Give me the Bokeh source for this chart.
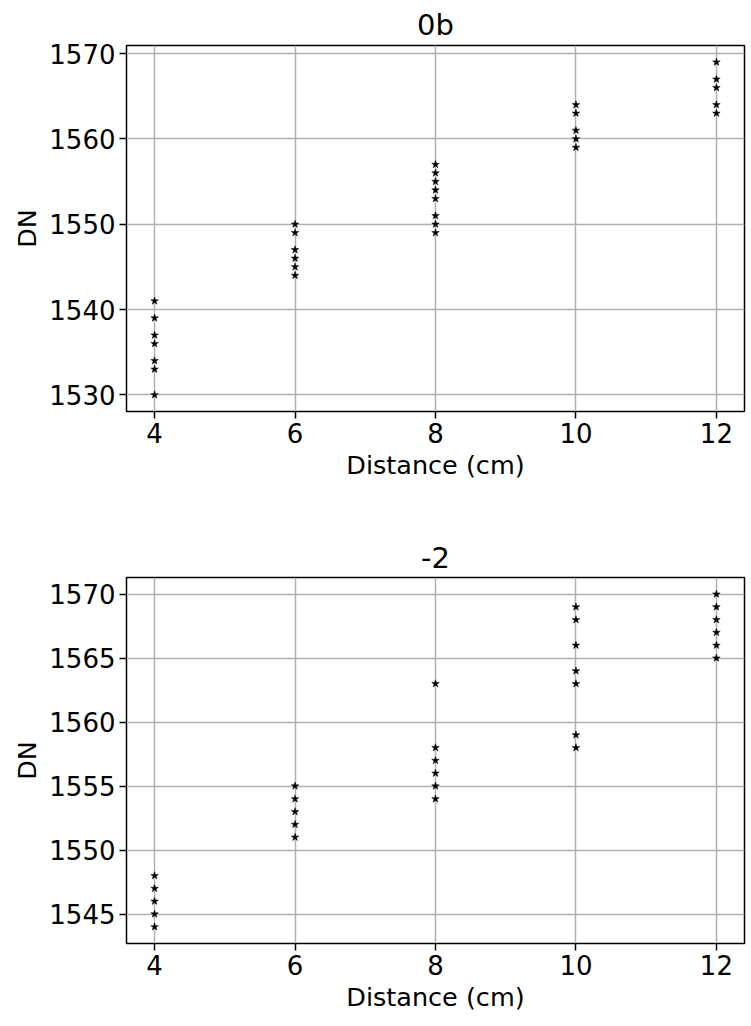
from bokeh.plotting import figure
from bokeh.layouts import column
from bokeh.models import Range1d, FixedTicker
from bokeh.embed import file_html
from bokeh.resources import INLINE

# Measurements per distance, panel "0b"
dist_0b = [4] * 7 + [6] * 6 + [8] * 8 + [10] * 5 + [12] * 5
dn_0b = [1541, 1539, 1537, 1536, 1534, 1533, 1530,
         1550, 1549, 1547, 1546, 1545, 1544,
         1557, 1556, 1555, 1554, 1553, 1551, 1550, 1549,
         1564, 1563, 1561, 1560, 1559,
         1569, 1567, 1566, 1564, 1563]

# Measurements per distance, panel "-2"
dist_m2 = [4] * 5 + [6] * 5 + [8] * 6 + [10] * 7 + [12] * 6
dn_m2 = [1548, 1547, 1546, 1545, 1544,
         1555, 1554, 1553, 1552, 1551,
         1563, 1558, 1557, 1556, 1555, 1554,
         1569, 1568, 1566, 1564, 1563, 1559, 1558,
         1570, 1569, 1568, 1567, 1566, 1565]

x_ticks = [4, 6, 8, 10, 12]
y_ticks_0b = [1530, 1540, 1550, 1560, 1570]
y_ticks_m2 = [1545, 1550, 1555, 1560, 1565, 1570]

FONT = "DejaVu Sans"


def panel(title, xs, ys, yticks, yrange, height, borders, title_standoff):
    top, bottom, left, right = borders
    p = figure(width=751, height=height, output_backend="svg",
               toolbar_location=None, title=title,
               x_range=Range1d(3.6, 12.4), y_range=Range1d(*yrange),
               min_border_top=top, min_border_bottom=bottom,
               min_border_left=left, min_border_right=right)
    p.title.align = "center"
    p.title.text_font = FONT
    p.title.text_font_style = "normal"
    p.title.text_font_size = "29px"
    p.title.text_color = "black"
    p.title.offset = 0
    p.title.standoff = title_standoff

    p.scatter(xs, ys, marker="star", size=8, fill_color="black",
              line_color="black", line_width=0.5)

    p.xaxis.ticker = FixedTicker(ticks=x_ticks)
    p.yaxis.ticker = FixedTicker(ticks=yticks)
    p.xaxis.axis_label = "Distance (cm)"
    p.yaxis.axis_label = "DN"
    for ax in (p.xaxis, p.yaxis):
        ax.axis_label_text_font = FONT
        ax.axis_label_text_font_size = "25.5px"
        ax.axis_label_text_font_style = "normal"
        ax.axis_label_text_color = "black"
        ax.major_label_text_font = FONT
        ax.major_label_text_font_size = "26px"
        ax.major_label_text_color = "black"
        ax.major_tick_out = 7
        ax.major_tick_in = 0
        ax.minor_tick_out = 0
        ax.minor_tick_in = 0
        ax.axis_line_color = None
        ax.major_tick_line_color = "black"
        ax.major_tick_line_width = 1.5
        ax.major_label_standoff = 4
        ax.axis_label_standoff = 4

    p.grid.grid_line_color = "#b0b0b0"
    p.grid.grid_line_width = 1.5
    p.outline_line_color = "black"
    p.outline_line_width = 1.5
    p.background_fill_color = "white"
    p.border_fill_color = "white"
    return p


p1 = panel("0b", dist_0b, dn_0b, y_ticks_0b, (1528.05, 1570.95), 513,
           (45, 102, 126, 0), 8)
p2 = panel("-2", dist_m2, dn_m2, y_ticks_m2, (1542.7, 1571.3), 513,
           (64, 83, 122, 7), 20)

layout = column(p1, p2, spacing=0)
open("out.html", "w").write(file_html(layout, INLINE))
